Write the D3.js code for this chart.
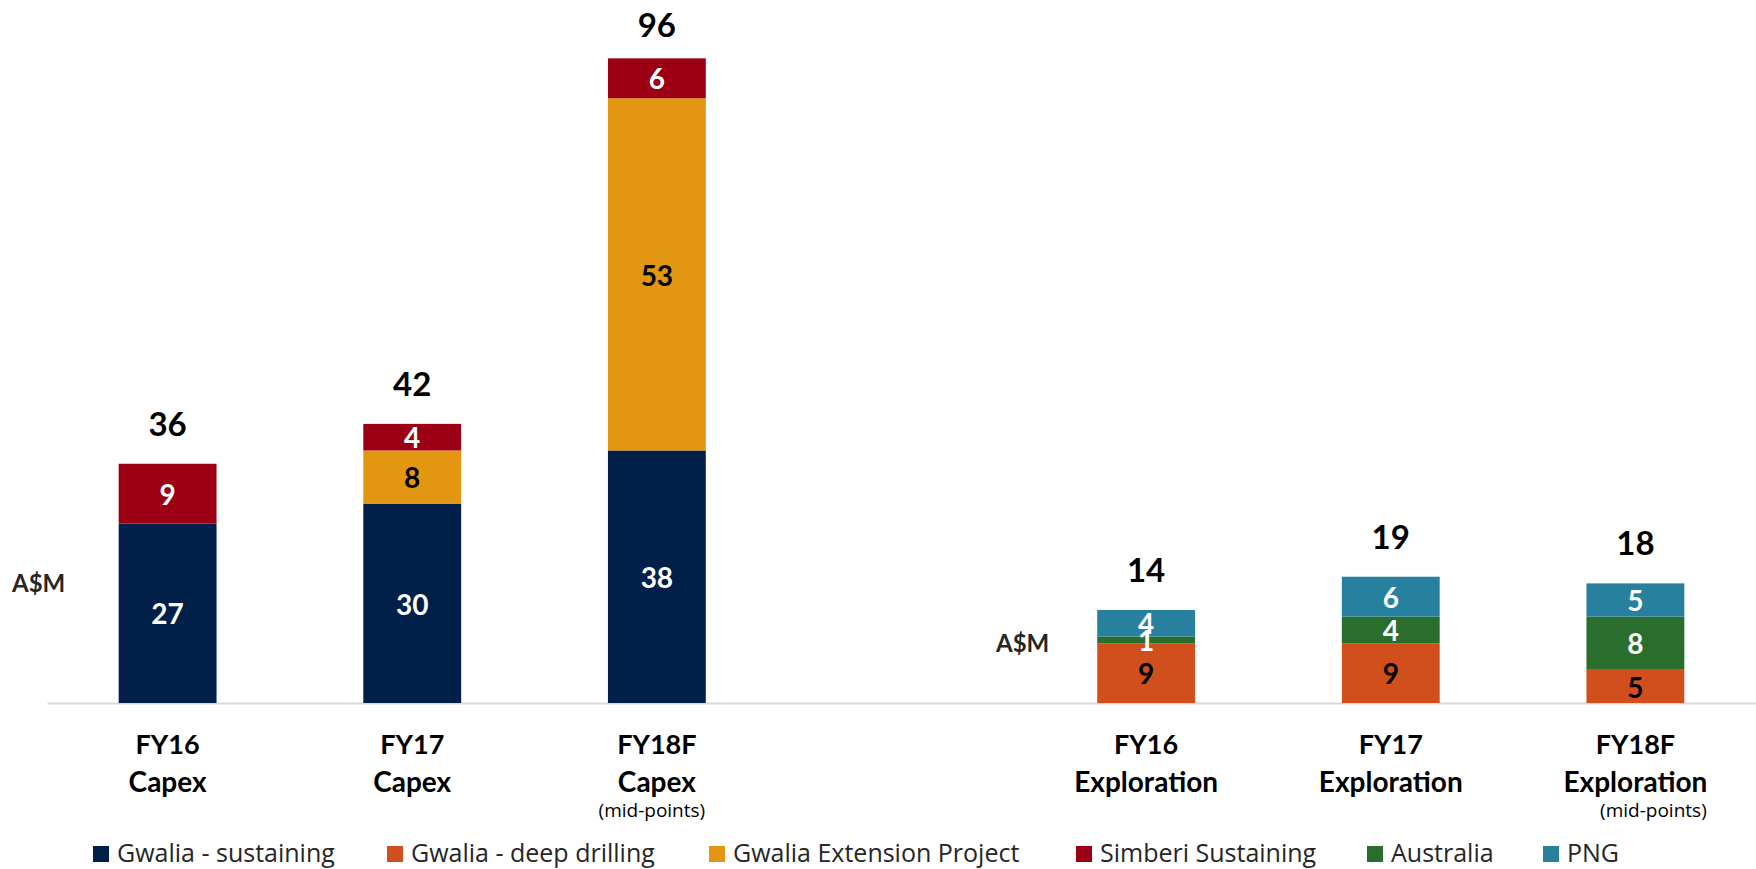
<!DOCTYPE html>
<html>
<head>
<meta charset="utf-8">
<script src="https://cdn.jsdelivr.net/npm/d3@7"></script>
<style>
  html, body { margin: 0; padding: 0; background: #ffffff; }
  svg { display: block; }
</style>
</head>
<body>
<svg id="chart" width="1756" height="869"></svg>
<script>
// ---- Data (A$M) ----
const periods = ["FY16", "FY17", "FY18F", "FY16", "FY17", "FY18F"];
const kinds = ["Capex", "Capex", "Capex", "Exploration", "Exploration", "Exploration"];
const notes = ["", "", "(mid-points)", "", "", "(mid-points)"];

const gwaliaSustaining   = [27, 30, 38, 0, 0, 0];
const gwaliaDeepDrilling = [0, 0, 0, 9, 9, 5];
const gwaliaExtension    = [0, 8, 53, 0, 0, 0];
const simberiSustaining  = [9, 4, 6, 0, 0, 0];
const australia          = [0, 0, 0, 1, 4, 8];
const png                = [0, 0, 0, 4, 6, 5];
const totals             = [36, 42, 96, 14, 19, 18];

const seriesNames = ["Gwalia - sustaining", "Gwalia - deep drilling", "Gwalia Extension Project",
                     "Simberi Sustaining", "Australia", "PNG"];
const unitLabel = "A$M";

// ---- Styling ----
const seriesColors = ["#00204a", "#d04f1c", "#e39612", "#9b0014", "#2a6e2e", "#26809e"];
const labelColors  = ["#ffffff", "#000000", "#000000", "#ffffff", "#ffffff", "#ffffff"];
const boldFont = "Lato, 'Open Sans', sans-serif";
const textFont = "'Open Sans', Lato, sans-serif";

// ---- Build table ----
const seriesValues = [gwaliaSustaining, gwaliaDeepDrilling, gwaliaExtension,
                      simberiSustaining, australia, png];
const ids = periods.map((p, i) => p + " " + kinds[i]);
const rows = ids.map((id, i) => {
  const r = { id, total: totals[i], period: periods[i], kind: kinds[i], note: notes[i] };
  seriesNames.forEach((s, k) => { r[s] = seriesValues[k][i]; });
  return r;
});

// Capex group, an empty slot, then the Exploration group
const slotDomain = [...ids.slice(0, 3), "__gap__", ...ids.slice(3)];

const svg = d3.select("#chart");

const baseY = 703;
const x = d3.scaleBand()
  .domain(slotDomain)
  .range([47, 1756])
  .paddingInner(0.6)
  .paddingOuter(0.293);

const y = d3.scaleLinear()
  .domain([0, 96])
  .range([baseY, 65]);

const stacked = d3.stack().keys(seriesNames)(rows);

// ---- Baseline ----
const axis = d3.axisBottom(x).tickSize(0).tickSizeOuter(0).tickFormat("");
const axisG = svg.append("g").attr("transform", `translate(0,${baseY})`).call(axis);
axisG.select(".domain").attr("stroke", "#d9d9d9").attr("stroke-width", 2);
axisG.selectAll(".tick").remove();

// ---- Bars ----
const layers = svg.append("g").selectAll("g.layer")
  .data(stacked)
  .join("g")
  .attr("class", "layer")
  .attr("fill", (d, i) => seriesColors[i]);

layers.selectAll("rect")
  .data(d => d.filter(s => s[1] - s[0] > 0))
  .join("rect")
  .attr("x", d => x(d.data.id))
  .attr("width", x.bandwidth())
  .attr("y", d => y(d[1]))
  .attr("height", d => y(d[0]) - y(d[1]));

// ---- Segment value labels ----
const segLabels = svg.append("g");
stacked.forEach((layer, k) => {
  segLabels.selectAll(null)
    .data(layer.filter(s => s[1] - s[0] > 0))
    .join("text")
    .attr("x", d => x(d.data.id) + x.bandwidth() / 2)
    .attr("y", d => (y(d[0]) + y(d[1])) / 2)
    .attr("dy", "0.4em")
    .attr("text-anchor", "middle")
    .attr("font-family", boldFont)
    .attr("font-weight", 700)
    .attr("font-size", 28)
    .attr("fill", labelColors[k])
    .text(d => d[1] - d[0]);
});

// ---- Totals above bars ----
const topOf = id => d3.max(stacked, l => l.find(s => s.data.id === id)[1]);
svg.append("g").selectAll("text")
  .data(rows)
  .join("text")
  .attr("x", d => x(d.id) + x.bandwidth() / 2)
  .attr("y", d => y(Math.min(topOf(d.id), d.total)) - 28)
  .attr("text-anchor", "middle")
  .attr("font-family", boldFont)
  .attr("font-weight", 700)
  .attr("font-size", 33)
  .attr("fill", "#000000")
  .text(d => d.total);

// ---- Category labels ----
const catG = svg.append("g").selectAll("g")
  .data(rows)
  .join("g")
  .attr("transform", d => `translate(${x(d.id) + x.bandwidth() / 2},0)`);

catG.append("text")
  .attr("y", 754)
  .attr("text-anchor", "middle")
  .attr("font-family", boldFont)
  .attr("font-weight", 700)
  .attr("font-size", 27)
  .attr("fill", "#000000")
  .text(d => d.period);

catG.append("text")
  .attr("y", 792)
  .attr("text-anchor", "middle")
  .attr("font-family", boldFont)
  .attr("font-weight", 700)
  .attr("font-size", 28)
  .attr("fill", "#000000")
  .text(d => d.kind);

catG.filter(d => d.note)
  .append("text")
  .attr("x", d => d.kind === "Capex" ? -5 : 18)
  .attr("y", 817)
  .attr("text-anchor", "middle")
  .attr("font-family", textFont)
  .attr("font-size", 19)
  .attr("fill", "#000000")
  .text(d => d.note);

// ---- Unit labels ----
svg.append("text")
  .attr("x", 12).attr("y", 592)
  .attr("font-family", boldFont).attr("font-weight", 700).attr("font-size", 24)
  .attr("fill", "#262626")
  .text(unitLabel);

svg.append("text")
  .attr("x", 996).attr("y", 652)
  .attr("font-family", boldFont).attr("font-weight", 700).attr("font-size", 24)
  .attr("fill", "#262626")
  .text(unitLabel);

// ---- Legend ----
const legendX = [93, 387, 709, 1076, 1367, 1543];
const legend = svg.append("g").selectAll("g")
  .data(seriesNames)
  .join("g")
  .attr("transform", (d, i) => `translate(${legendX[i]},846)`);

legend.append("rect")
  .attr("width", 16).attr("height", 16)
  .attr("fill", (d, i) => seriesColors[i]);

legend.append("text")
  .attr("x", 24).attr("y", 16)
  .attr("font-family", textFont)
  .attr("font-size", 25)
  .attr("fill", "#262626")
  .text(d => d);
</script>
</body>
</html>
